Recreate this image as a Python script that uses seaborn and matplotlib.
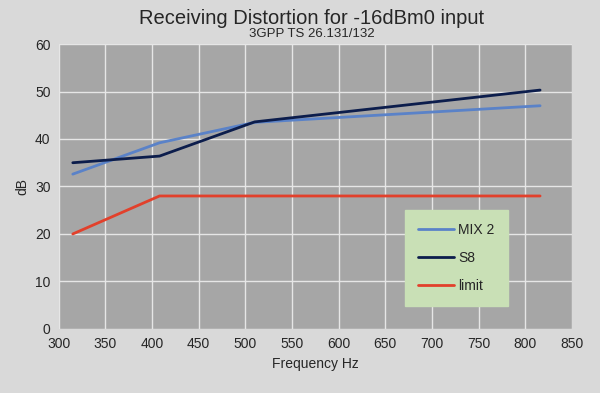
import numpy as np
import pandas as pd
import matplotlib
matplotlib.use("Agg")
import matplotlib.pyplot as plt
import seaborn as sns

# datos
freq = [315, 408, 510, 816]
mix2 = [32.6, 39.2, 43.5, 47.0]
s8 = [35.0, 36.4, 43.6, 50.3]
limite = [20.0, 28.0, 28.0, 28.0]
series = ["MIX 2", "S8", "limit"]
colores = ["#5a82c8", "#0c1d4c", "#e2402b"]

df = pd.DataFrame({
    "Frequency": freq * 3,
    "dB": mix2 + s8 + limite,
    "serie": [series[0]] * 4 + [series[1]] * 4 + [series[2]] * 4,
})

sns.set_style("whitegrid", {"axes.facecolor": "#a6a6a6", "grid.color": "#e6e6e6",
                            "axes.edgecolor": "#a6a6a6"})
plt.rcParams["font.family"] = ["Liberation Sans", "DejaVu Sans"]

fig, ax = plt.subplots(figsize=(6, 3.93), dpi=100)
fig.patch.set_facecolor("#d9d9d9")
fig.subplots_adjust(left=0.098, right=0.953, top=0.888, bottom=0.163)

sns.lineplot(data=df, x="Frequency", y="dB", hue="serie", palette=colores,
             linewidth=2, ax=ax)

ax.set_xlim(300, 850)
ax.set_ylim(0, 60)
ax.set_xticks(np.arange(300, 851, 50))
ax.set_yticks(np.arange(0, 61, 10))
ax.grid(True, linewidth=1.0)
ax.tick_params(length=0, labelsize=10, pad=6)
ax.set_xlabel("Frequency Hz", fontsize=10)
ax.set_ylabel("dB", fontsize=10)
for s in ax.spines.values():
    s.set_visible(False)

fig.text(0.52, 0.94, "Receiving Distortion for -16dBm0 input", ha="center", fontsize=14.5)
fig.text(0.52, 0.905, "3GPP TS 26.131/132", ha="center", fontsize=9.5)

# leyenda en caja verde
leg = ax.legend(loc="lower left", bbox_to_anchor=(0.674, 0.081), borderaxespad=0,
                handlelength=2.6, labelspacing=1.0, borderpad=0.95, handletextpad=0.3,
                fontsize=10, frameon=True, fancybox=False)
leg.get_frame().set_facecolor("#c9e0b6")
leg.get_frame().set_edgecolor("#c9e0b6")
leg.get_frame().set_alpha(1)

fig.savefig("out.png", dpi=100, facecolor=fig.get_facecolor())
